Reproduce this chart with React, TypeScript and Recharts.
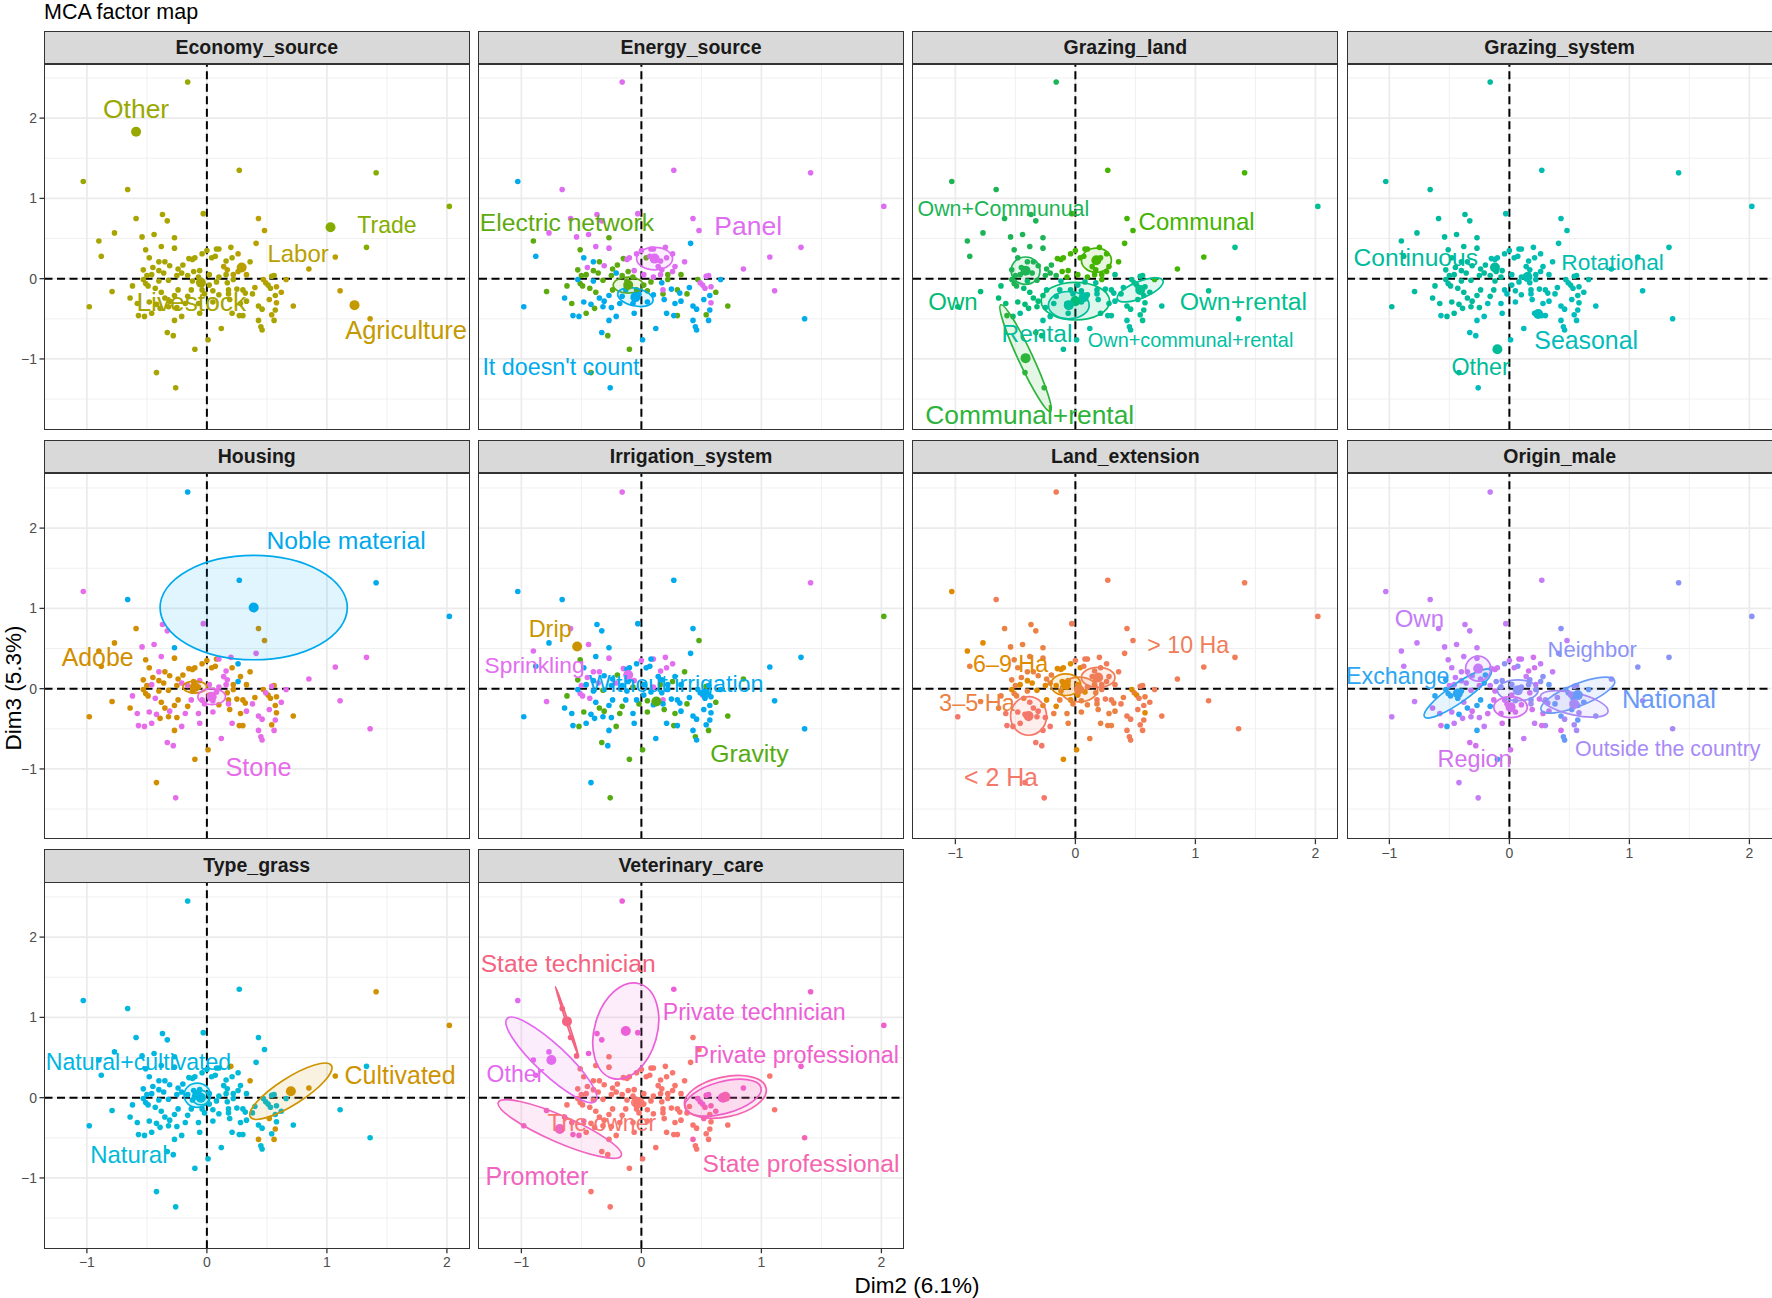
import React from 'react'
import {
  ScatterChart,
  Scatter,
  XAxis,
  YAxis,
  ReferenceLine,
} from 'recharts'

const FONT = '"Liberation Sans", Arial, Helvetica, sans-serif'

// facet layout, px
const PLOT_LEFT = 44.5
const COL_STEP = 434.3
const STRIP_TOP = 30.5
const ROW_STEP = 409.2
const STRIP_H = 33.8
const PLOT_W = 424.5
const PLOT_H = 365.2

const X_DOMAIN = [-1.353, 2.184]
const Y_DOMAIN = [-1.875, 2.674]
const TICKS = [-1, 0, 1, 2]
const MINOR_X = [-0.5, 0.5, 1.5]
const MINOR_Y = [-1.5, -0.5, 0.5, 1.5, 2.5]

// individuals (Dim2, Dim3)
const dim2 = [
  -0.16, -1.03, -0.66, 0.27, 1.41, 2.02, 1.33, 1.07, 0.85, 1.11,
  1.36, 0.72, 0.66, -0.98, -0.79, -0.88, -0.9, -0.77, -0.59, -0.37,
  -0.33, -0.03, -0.54, -0.44, -0.27, -0.27, -0.38, -0.51, -0.48, 0.43,
  0.48, 0.41, 0.36, 0.2, 0.26, 0.08, 0.1, 0.04, 0.16, 0.26,
  0.22, -0.62, -0.64, -0.57, -0.52, -0.46, -0.33, -0.28, -0.27, -0.21,
  -0.06, -0.1, 0.01, 0.12, -0.42, -0.26, 0.21, 0.27, 0.3, 0.43,
  0.46, 0.43, 0.45, 0.46, 0.54, 0.56, 0.57, 0.58, 0.62, 0.57,
  0.53, 0.51, 0.47, 0.54, 0.56, 0.4, 0.38, 0.32, 0.25, 0.18,
  0.1, 0.05, 0.02, -0.13, -0.16, -0.24, -0.27, -0.35, -0.38, -0.43,
  -0.49, -0.53, -0.5, -0.46, -0.4, -0.32, -0.25, -0.21, -0.16, -0.11,
  -0.06, -0.12, -0.1, -0.15, -0.2, -0.24, -0.31, -0.35, -0.4, -0.53,
  -0.04, 0.0, 0.07, 0.14, 0.21, 0.33, 0.16, 0.08, 0.17, 0.05,
  -0.07, -0.18, -0.32, -0.39, -0.48, -0.58, 0.52, 0.28, 0.17, -0.51,
  -0.31, -0.04, -0.02, -0.25, 0.18, 0.19, 0.3, 0.33, 0.28, 0.22,
  0.1, -0.42, -0.4, -0.36, -0.45, -0.07, 0.02, -0.12, 0.49, 0.58,
]

const dim3 = [
  2.45, 1.21, 1.11, 1.35, 1.32, 0.9, 0.39, 0.27, 0.12, -0.15,
  -0.5, -0.34, -0.01, -0.35, -0.16, 0.28, 0.47, 0.57, 0.75, 0.8,
  0.72, 0.81, 0.52, 0.55, 0.51, 0.38, 0.4, 0.36, 0.26, 0.75,
  0.6, 0.44, 0.21, 0.39, 0.31, 0.37, 0.37, 0.26, 0.22, 0.09,
  0.05, -0.09, -0.24, -0.46, -0.47, -0.43, -0.67, -0.71, -0.52, -0.47,
  -0.43, -0.88, -0.76, -0.62, -1.17, -1.36, -0.43, -0.46, -0.46, -0.34,
  -0.38, -0.52, -0.6, -0.64, -0.45, -0.52, -0.39, -0.3, -0.17, -0.21,
  -0.12, -0.08, -0.01, 0.03, 0.04, -0.11, -0.19, -0.18, -0.13, -0.14,
  -0.2, -0.15, -0.08, -0.14, -0.22, -0.14, -0.21, -0.24, -0.17, -0.12,
  -0.09, -0.01, 0.04, 0.05, -0.03, -0.02, 0.04, 0.07, 0.04, 0.09,
  0.1, 0.24, 0.26, 0.25, 0.17, 0.12, 0.16, 0.21, 0.21, 0.11,
  0.31, 0.35, 0.28, 0.15, 0.26, 0.05, 0.05, -0.04, -0.05, -0.29,
  -0.31, -0.31, -0.35, -0.37, -0.29, -0.31, -0.26, 0.15, 0.11, -0.06,
  -0.28, -0.14, -0.19, -0.36, -0.19, -0.26, -0.14, -0.28, -0.31, -0.01,
  0.02, -0.32, 0.1, 0.07, 0.14, 0.02, 0.05, -0.03, -0.05, -0.1,
]

// category of every individual, one letter each (spaces every 10 for reading)
const economyGroups =
  'OOLLTTTBBA ABBLLLLLLL LLLLLLLLLB BBLLBLLLLB BLLLLLLLLL LLLLLLLLLL LLLLBLLBBL LLBLLBLLLL LLLLLLLLLL LLLLLLLLLL LLLLLLLLLL LLLBLBLLLL LLLLLLBBBL LLLLLLLLLL LLLLLLLLBB'
const energyGroups =
  'PIPPPPPPPP IEIIEIEPPP PPPPEPPEIP PIPPPPPEPP EEIIIEIEII IEIIEIIIEI IIIIEIIPEI PPEPPIEIIP IEEIIEIIEE EIEEIEEIEE PPPEEEPEIE PPPPPEPEII IIIEIEIPPE IEIIEIEIIE PIEEPEPEPP'
const grazingLandGroups =
  'MMMCCXXCCX XTCWWMMMMM MCMMMMMMMC CCCCCCCCCC CWWRWTRWTT TTNNRRTTTX XNNNXXXXXX XXXXXNXTTT TTTTTTWWWW MMMMWMMMMC CCCCMMMMMM CCCCCXCTTT TTWWWWXCCM WTNTNTXNTC CWMMMCCTXX'
const grazingSystemGroups =
  'CCCRRSRRRS SSRCCCCCCC CRCCCCCCCR RRRRRRRRRR RCCSCCSSSS SOSSCSSSSS SSSSSSSRRR RRRRRRRRRR RRRCCCCCCC CCCCCCCCCC CRRRCCCCCC RRRRRRRRRS SSCCCCSRRC CSSCSSRSSR RCCCCCRCRR'
const housingGroups =
  'NSNNNNSSSS SASAAAAAAS SSSSNASAAA ASASNASASN ASASSSSSAS SAASASSAAS SSSSASSASA AAASAASAAA ASASAAAAAS AAASAAASSA SAAAAAAASA AAASAASSAS SSAASSSASA SSSASAASAA SSAAAASASA'
const irrigationGroups =
  'SWWWSGWWGW WGWWSWSWSW WWDSWSWGWW GWGSSWSWSG WGWWGWGWWG WGGWWGWGWW WWGWWGWWGW WSWGWWGWWS WGWWGWWGWS SWSWWGWSWW SWWSGWWSSG WSWWSWGWWG WGWWGWWWWS GWGWWGWWGW SWWSSGWWWW'
const landGroups =
  'GSGGGGGGGG GGGLTTSSTT TGTTTTTTTG GGGGGGGSGG GTTLLLLLLL TSSTLLTTTG GGGGGGGSGG GSSGGTGTGG TTSTSSSLLT TSTSTSSTSS SSSSTTTTTT SGGGGGGSTT TTLLLLGGGT LSTLTTGTTG GLSSTSSSTT'
const originGroups =
  'OOOOBBBBTT TBNOOOOOOO OOOOOOOOOB OBOROROORB RERREORREO REROOOORTN TRNNTTNTNN NTNTBTNTRB RBRREEEEOE EEOOERREOB BROOEOOOOE BOBORNBRRR RROOOONBBE RRROTRTORB BEOOOBBRNT'
const grassGroups =
  'NMNNCCNCCN NNNMNMMMMM MNMMMMMMMN NNCCNNNNNN NMNNNNNNNN NNNNNNNNNN NCNNNCCNNN NNNNNNNNNN NNNNNMNNNN MMMMMMMMMM MNNNMMMMMM NNNNNNNNNN NNNNNNCNNM NNNNNNNNNN NNMMMMMMNN'
const vetGroups =
  'POSPRRRTRT FTRMMOOOSP PPSPTTTTTT TTTTTTTTTT TTMMMTTTTT TTTTTTTTTT TFTTTTTTFT FRRRRTTTTT TTTTTTTTTT TTTTTTTTTT TTTTTTTTTT TTTTTTTTTT TTTTMMFTTT TTTTTTTTTT TTTTTTTTRF'

// categories: mean point (x, y) and repelled label position (lx, ly)
const economyCats = [
  { code: 'A', name: 'Agriculture', x: 1.23, y: -0.33, lx: 1.66, ly: -0.64 },
  { code: 'B', name: 'Labor', x: 0.29, y: 0.14, lx: 0.76, ly: 0.31 },
  { code: 'L', name: 'Livestock', x: -0.05, y: -0.05, lx: -0.13, ly: -0.29 },
  { code: 'O', name: 'Other', x: -0.59, y: 1.83, lx: -0.59, ly: 2.11 },
  { code: 'T', name: 'Trade', x: 1.03, y: 0.64, lx: 1.5, ly: 0.67 },
]
const economyColors = ['#C49A00', '#B9A000', '#A8A400', '#99A800', '#84AD00']
const economySizes = [25.5, 24, 26.3, 26.5, 23]

const energyCats = [
  { code: 'E', name: 'Electric network', x: -0.11, y: -0.08, lx: -0.62, ly: 0.7 },
  { code: 'I', name: "It doesn't count", x: -0.05, y: -0.23, lx: -0.67, ly: -1.1 },
  { code: 'P', name: 'Panel', x: 0.11, y: 0.25, lx: 0.89, ly: 0.66 },
]
const energyColors = ['#5DAA0E', '#00ABEC', '#DE6DF2']
const energySizes = [24.7, 23.3, 26.5]
const energyEllipses = [
  { code: 'E', rx: 0.125, ry: 0.1, angle: 0 },
  { code: 'I', rx: 0.15, ry: 0.11, angle: 12 },
  { code: 'P', rx: 0.15, ry: 0.14, angle: 0 },
]

const grazingLandCats = [
  { code: 'C', name: 'Communal', x: 0.175, y: 0.23, lx: 1.01, ly: 0.71 },
  { code: 'R', name: 'Communal+rental', x: -0.415, y: -0.99, lx: -0.38, ly: -1.7 },
  { code: 'W', name: 'Own', x: 0.0, y: -0.28, lx: -1.02, ly: -0.29 },
  { code: 'M', name: 'Own+Communual', x: -0.415, y: 0.1, lx: -0.6, ly: 0.87 },
  { code: 'N', name: 'Own+communal+rental', x: 0.07, y: -0.23, lx: 0.96, ly: -0.76 },
  { code: 'X', name: 'Own+rental', x: 0.54, y: -0.14, lx: 1.4, ly: -0.29 },
  { code: 'T', name: 'Rental', x: -0.055, y: -0.33, lx: -0.32, ly: -0.68 },
]
const grazingLandColors = ['#44B400', '#2DB43A', '#00BC74', '#1DB456', '#00BFA3', '#00BF90', '#00BD9C']
const grazingLandSizes = [24, 26.4, 24, 21.4, 19.9, 24.8, 24.5]
const grazingLandEllipses = [
  { code: 'M', rx: 0.12, ry: 0.17, angle: 0 },
  { code: 'C', rx: 0.125, ry: 0.15, angle: 0 },
  { code: 'W', rx: 0.285, ry: 0.235, angle: 0 },
  { code: 'T', rx: 0.17, ry: 0.17, angle: 0 },
  { code: 'X', rx: 0.205, ry: 0.104, angle: -22 },
  { code: 'R', rx: 0.49, ry: 0.09, angle: 65 },
]

const grazingSystemCats = [
  { code: 'C', name: 'Continuous', x: -0.12, y: 0.14, lx: -0.78, ly: 0.26 },
  { code: 'O', name: 'Other', x: -0.1, y: -0.88, lx: -0.24, ly: -1.1 },
  { code: 'R', name: 'Rotational', x: 0.15, y: 0.02, lx: 0.86, ly: 0.21 },
  { code: 'S', name: 'Seasonal', x: 0.24, y: -0.44, lx: 0.64, ly: -0.76 },
]
const grazingSystemColors = ['#00BA9D', '#00BC98', '#00BDB0', '#00BCBC']
const grazingSystemSizes = [24.6, 23.3, 22.8, 24.9]

const housingCats = [
  { code: 'A', name: 'Adobe', x: -0.1, y: 0.02, lx: -0.91, ly: 0.4 },
  { code: 'N', name: 'Noble material', x: 0.39, y: 1.01, lx: 1.16, ly: 1.85 },
  { code: 'S', name: 'Stone', x: 0.04, y: -0.1, lx: 0.43, ly: -0.97 },
]
const housingColors = ['#D18E00', '#00A9EC', '#E66CE9']
const housingSizes = [24.9, 24.7, 25.3]
const housingEllipses = [
  { code: 'A', rx: 0.1, ry: 0.075, angle: 0 },
  { code: 'N', rx: 0.78, ry: 0.65, angle: 0 },
  { code: 'S', rx: 0.115, ry: 0.1, angle: 0 },
]

const irrigationCats = [
  { code: 'D', name: 'Drip', x: -0.535, y: 0.525, lx: -0.76, ly: 0.74 },
  { code: 'G', name: 'Gravity', x: 0.125, y: -0.16, lx: 0.9, ly: -0.81 },
  { code: 'S', name: 'Sprinkling', x: -0.11, y: 0.17, lx: -0.89, ly: 0.29 },
  { code: 'W', name: 'Without irrigation', x: 0.53, y: -0.06, lx: 0.29, ly: 0.06 },
]
const irrigationColors = ['#C89500', '#55AC10', '#E36EF0', '#00AAEE']
const irrigationSizes = [23.5, 24.8, 22.8, 23.3]

const landCats = [
  { code: 'L', name: '< 2 Ha', x: -0.39, y: -0.34, lx: -0.62, ly: -1.1 },
  { code: 'T', name: '3\u20135 Ha', x: 0.03, y: -0.01, lx: -0.82, ly: -0.18 },
  { code: 'S', name: '6\u20139 Ha', x: -0.08, y: 0.05, lx: -0.54, ly: 0.31 },
  { code: 'G', name: '> 10 Ha', x: 0.19, y: 0.14, lx: 0.94, ly: 0.54 },
]
const landColors = ['#F4786A', '#EB8244', '#E08A00', '#F07D58']
const landSizes = [24.9, 23.5, 23.3, 23.2]
const landEllipses = [
  { code: 'L', rx: 0.15, ry: 0.24, angle: 0 },
  { code: 'T', rx: 0.155, ry: 0.155, angle: 0 },
  { code: 'S', rx: 0.125, ry: 0.135, angle: 0 },
  { code: 'G', rx: 0.14, ry: 0.125, angle: 0 },
]

const originCats = [
  { code: 'E', name: 'Exchange', x: -0.43, y: -0.06, lx: -0.93, ly: 0.16 },
  { code: 'N', name: 'National', x: 0.57, y: -0.08, lx: 1.33, ly: -0.13 },
  { code: 'B', name: 'Neighbor', x: 0.07, y: -0.02, lx: 0.69, ly: 0.49 },
  { code: 'T', name: 'Outside the country', x: 0.54, y: -0.19, lx: 1.32, ly: -0.75 },
  { code: 'O', name: 'Own', x: -0.26, y: 0.25, lx: -0.75, ly: 0.87 },
  { code: 'R', name: 'Region', x: 0.01, y: -0.23, lx: -0.29, ly: -0.88 },
]
const originColors = ['#2BA6F2', '#6A9AF7', '#8C93F7', '#A88AF7', '#C47CF8', '#D272EE']
const originSizes = [23.3, 25.6, 22, 21.4, 24, 23.4]
const originEllipses = [
  { code: 'E', rx: 0.339, ry: 0.116, angle: -35 },
  { code: 'N', rx: 0.33, ry: 0.137, angle: -22 },
  { code: 'B', rx: 0.17, ry: 0.13, angle: 0 },
  { code: 'T', rx: 0.29, ry: 0.137, angle: 13 },
  { code: 'O', rx: 0.105, ry: 0.155, angle: 0 },
  { code: 'R', rx: 0.14, ry: 0.13, angle: 0 },
]

const grassCats = [
  { code: 'C', name: 'Cultivated', x: 0.7, y: 0.08, lx: 1.61, ly: 0.285 },
  { code: 'N', name: 'Natural', x: -0.05, y: 0.0, lx: -0.65, ly: -0.71 },
  { code: 'M', name: 'Natural+cultivated', x: -0.08, y: 0.03, lx: -0.57, ly: 0.44 },
]
const grassColors = ['#CE9300', '#00BAD8', '#00B5E2']
const grassSizes = [25, 24, 23.1]
const grassEllipses = [
  { code: 'C', rx: 0.4, ry: 0.166, angle: -32.5 },
  { code: 'M', rx: 0.11, ry: 0.15, angle: 0 },
  { code: 'N', rx: 0.07, ry: 0.09, angle: 0 },
]

const vetCats = [
  { code: 'O', name: 'Other', x: -0.75, y: 0.47, lx: -1.05, ly: 0.3 },
  { code: 'R', name: 'Private professional', x: 0.68, y: 0.0, lx: 1.29, ly: 0.53 },
  { code: 'P', name: 'Private technician', x: -0.13, y: 0.83, lx: 0.94, ly: 1.07 },
  { code: 'M', name: 'Promoter', x: -0.68, y: -0.39, lx: -0.87, ly: -0.97 },
  { code: 'F', name: 'State professional', x: 0.7, y: 0.01, lx: 1.33, ly: -0.82 },
  { code: 'S', name: 'State technician', x: -0.62, y: 0.95, lx: -0.61, ly: 1.67 },
  { code: 'T', name: 'The owner', x: -0.03, y: -0.06, lx: -0.33, ly: -0.31 },
]
const vetColors = ['#E369EE', '#EF60CC', '#EC5FD8', '#F065C0', '#F564AE', '#F4637F', '#F8766D']
const vetSizes = [23, 23.4, 23.2, 25, 24.6, 24.6, 23]
const vetEllipses = [
  { code: 'S', rx: 0.305, ry: 0.0125, angle: 71.6 },
  { code: 'P', rx: 0.41, ry: 0.39, angle: -74 },
  { code: 'O', rx: 0.505, ry: 0.187, angle: 43 },
  { code: 'M', rx: 0.558, ry: 0.166, angle: 23.4 },
  { code: 'R', rx: 0.328, ry: 0.199, angle: -15 },
  { code: 'F', rx: 0.347, ry: 0.249, angle: -12 },
  { code: 'T', rx: 0.05, ry: 0.06, angle: 0 },
]

const panels = [
  { title: 'Economy_source', groups: economyGroups, cats: economyCats, colors: economyColors, sizes: economySizes, ellipses: [] as any[] },
  { title: 'Energy_source', groups: energyGroups, cats: energyCats, colors: energyColors, sizes: energySizes, ellipses: energyEllipses },
  { title: 'Grazing_land', groups: grazingLandGroups, cats: grazingLandCats, colors: grazingLandColors, sizes: grazingLandSizes, ellipses: grazingLandEllipses },
  { title: 'Grazing_system', groups: grazingSystemGroups, cats: grazingSystemCats, colors: grazingSystemColors, sizes: grazingSystemSizes, ellipses: [] as any[] },
  { title: 'Housing', groups: housingGroups, cats: housingCats, colors: housingColors, sizes: housingSizes, ellipses: housingEllipses },
  { title: 'Irrigation_system', groups: irrigationGroups, cats: irrigationCats, colors: irrigationColors, sizes: irrigationSizes, ellipses: [] as any[] },
  { title: 'Land_extension', groups: landGroups, cats: landCats, colors: landColors, sizes: landSizes, ellipses: landEllipses },
  { title: 'Origin_male', groups: originGroups, cats: originCats, colors: originColors, sizes: originSizes, ellipses: originEllipses },
  { title: 'Type_grass', groups: grassGroups, cats: grassCats, colors: grassColors, sizes: grassSizes, ellipses: grassEllipses },
  { title: 'Veterinary_care', groups: vetGroups, cats: vetCats, colors: vetColors, sizes: vetSizes, ellipses: vetEllipses },
]

const fmtTick = (v: number) => (v < 0 ? `\u2212${Math.abs(v)}` : `${v}`)

function FacetPanel({ panel, index }: any) {
  const col = index % 4
  const row = Math.floor(index / 4)
  const left = PLOT_LEFT + col * COL_STEP
  const stripTop = STRIP_TOP + row * ROW_STEP
  const top = stripTop + STRIP_H
  const showY = col === 0
  const showX = index >= 6
  const yw = showY ? 44.5 : 0
  const xh = showX ? 34 : 0

  // px per data unit, same as the linear scales of the axes below
  const kx = PLOT_W / (X_DOMAIN[1] - X_DOMAIN[0])
  const ky = PLOT_H / (Y_DOMAIN[1] - Y_DOMAIN[0])

  const groups = panel.groups.replace(/ /g, '')
  const points = dim2.map((x: number, i: number) => ({
    x,
    y: dim3[i],
    g: groups[i],
  }))
  const colorOf = (code: string) =>
    panel.colors[panel.cats.findIndex((c: any) => c.code === code)]
  const catOf = (code: string) =>
    panel.cats.find((c: any) => c.code === code)

  return (
    <>
      {/* strip */}
      <div
        style={{
          position: 'absolute',
          left: left - 0.8,
          top: stripTop,
          width: PLOT_W + 1.6,
          height: STRIP_H,
          boxSizing: 'border-box',
          background: '#D9D9D9',
          border: '1.6px solid #333333',
          textAlign: 'center',
          lineHeight: `${STRIP_H - 3}px`,
          fontFamily: FONT,
          fontWeight: 'bold',
          fontSize: 19.5,
          color: '#1A1A1A',
        }}
      >
        {panel.title}
      </div>

      <div
        style={{
          position: 'absolute',
          left: left - yw,
          top,
        }}
      >
        <ScatterChart
          width={PLOT_W + yw}
          height={PLOT_H + xh}
          margin={{ top: 0, right: 0, bottom: 0, left: 0 }}
        >
          <XAxis
            type="number"
            dataKey="x"
            domain={X_DOMAIN}
            allowDataOverflow
            ticks={TICKS}
            interval={0}
            hide={!showX}
            height={xh}
            tickFormatter={fmtTick}
            axisLine={false}
            tickSize={5}
            tickMargin={4}
            tickLine={{ stroke: '#333333', strokeWidth: 1.3 }}
            tick={{ fill: '#4D4D4D', fontSize: 14, fontFamily: FONT }}
          />
          <YAxis
            type="number"
            dataKey="y"
            domain={Y_DOMAIN}
            allowDataOverflow
            ticks={TICKS}
            interval={0}
            hide={!showY}
            width={yw}
            tickFormatter={fmtTick}
            axisLine={false}
            tickSize={5}
            tickMargin={2.5}
            tickLine={{ stroke: '#333333', strokeWidth: 1.3 }}
            tick={{ fill: '#4D4D4D', fontSize: 14, fontFamily: FONT }}
          />

          {/* grid */}
          {MINOR_X.map((v) => (
            <ReferenceLine key={`mx${v}`} x={v} stroke="#F0F0F0" strokeWidth={1} />
          ))}
          {MINOR_Y.map((v) => (
            <ReferenceLine key={`my${v}`} y={v} stroke="#F0F0F0" strokeWidth={1} />
          ))}
          {TICKS.map((v) => (
            <ReferenceLine key={`gx${v}`} x={v} stroke="#EBEBEB" strokeWidth={1.7} />
          ))}
          {TICKS.map((v) => (
            <ReferenceLine key={`gy${v}`} y={v} stroke="#EBEBEB" strokeWidth={1.7} />
          ))}

          <ReferenceLine x={0} stroke="#000000" strokeWidth={2} strokeDasharray="8 4.5" />
          <ReferenceLine y={0} stroke="#000000" strokeWidth={2} strokeDasharray="8 4.5" />

          {/* individuals */}
          {panel.cats.map((c: any, i: number) => (
            <Scatter
              key={`p${c.code}`}
              data={points.filter((p: any) => p.g === c.code)}
              isAnimationActive={false}
              shape={(p: any) => (
                <circle cx={p.cx} cy={p.cy} r={2.8} fill={panel.colors[i]} />
              )}
            />
          ))}

          {/* confidence ellipses */}
          {panel.ellipses.map((e: any) => {
            const c = catOf(e.code)
            const color = colorOf(e.code)
            return (
              <Scatter
                key={`e${e.code}`}
                data={[{ x: c.x, y: c.y, ...e }]}
                isAnimationActive={false}
                shape={(p: any) => (
                  <ellipse
                    cx={p.cx}
                    cy={p.cy}
                    rx={p.payload.rx * kx}
                    ry={p.payload.ry * ky}
                    transform={`rotate(${p.payload.angle} ${p.cx} ${p.cy})`}
                    fill={color}
                    fillOpacity={0.12}
                    stroke={color}
                    strokeWidth={1.7}
                  />
                )}
              />
            )
          })}

          {/* category points */}
          {panel.cats.map((c: any, i: number) => (
            <Scatter
              key={`m${c.code}`}
              data={[{ x: c.x, y: c.y }]}
              isAnimationActive={false}
              shape={(p: any) => (
                <circle cx={p.cx} cy={p.cy} r={5} fill={panel.colors[i]} />
              )}
            />
          ))}

          {/* labels */}
          {panel.cats.map((c: any, i: number) => (
            <Scatter
              key={`l${c.code}`}
              data={[{ x: c.lx, y: c.ly }]}
              isAnimationActive={false}
              shape={(p: any) => (
                <text
                  x={p.cx}
                  y={p.cy}
                  textAnchor="middle"
                  dominantBaseline="central"
                  fontSize={panel.sizes[i]}
                  fontFamily={FONT}
                  fill={panel.colors[i]}
                >
                  {c.name}
                </text>
              )}
            />
          ))}
        </ScatterChart>
      </div>

      {/* panel border */}
      <div
        style={{
          position: 'absolute',
          left: left - 0.8,
          top: top - 0.8,
          width: PLOT_W + 1.6,
          height: PLOT_H + 1.6,
          boxSizing: 'border-box',
          border: '1.6px solid #333333',
          pointerEvents: 'none',
        }}
      />
    </>
  )
}

export default function App() {
  return (
    <div
      style={{
        position: 'absolute',
        left: 0,
        top: 0,
        width: 1772,
        height: 1298,
        background: '#FFFFFF',
        overflow: 'hidden',
        fontFamily: FONT,
      }}
    >
      <svg
        width={1772}
        height={1298}
        style={{ position: 'absolute', left: 0, top: 0 }}
      >
        <text x={44} y={18.5} fontSize={21.5} fontFamily={FONT} fill="#000000">
          MCA factor map
        </text>
        <text
          x={917}
          y={1293}
          fontSize={22.5}
          fontFamily={FONT}
          fill="#000000"
          textAnchor="middle"
        >
          Dim2 (6.1%)
        </text>
        <text
          x={20.5}
          y={688}
          fontSize={22.5}
          fontFamily={FONT}
          fill="#000000"
          textAnchor="middle"
          transform="rotate(-90 20.5 688)"
        >
          Dim3 (5.3%)
        </text>
      </svg>

      {panels.map((panel, index) => (
        <FacetPanel key={panel.title} panel={panel} index={index} />
      ))}
    </div>
  )
}
